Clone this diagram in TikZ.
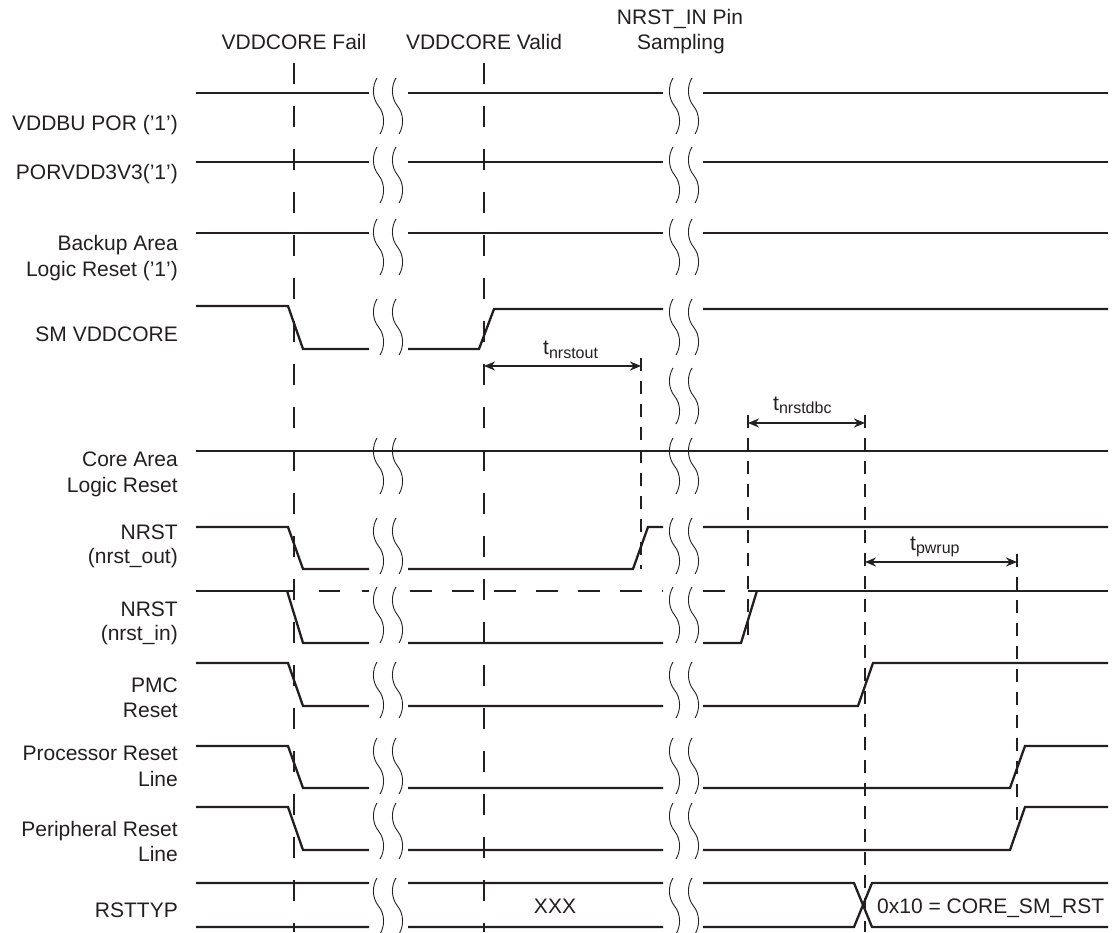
\documentclass[tikz,border=0pt]{standalone}
\usepackage{fontspec}
\setmainfont{Liberation Sans}
\usetikzlibrary{arrows.meta}
\definecolor{ink}{HTML}{231F20}
\newcommand\wavemark[2]{\draw[wavestyle] (#1,#2) .. controls (#1-5,#2+8) and (#1-5,#2+20) .. (#1+1.5,#2+28) .. controls (#1+8,#2+36) and (#1+8,#2+48) .. (#1+3,#2+56);}
\newcommand\wavepair[2]{\wavemark{#1}{#2}\wavemark{#1+19}{#2}}
\newcommand\tsub[1]{t{\fontsize{16}{16}\selectfont\raisebox{-3.5pt}{#1}}}
\begin{document}
\begin{tikzpicture}[x=1pt,y=-1pt,
  sig/.style={line width=2.3pt,ink,line join=miter},
  wavestyle/.style={line width=0.9pt,ink},
  vdash/.style={line width=2.8pt,ink,dash pattern=on 21pt off 22pt},
  sdash/.style={line width=2.5pt,ink,dash pattern=on 13pt off 10pt},
  dimarrow/.style={line width=2pt,ink,{Stealth[length=11pt,width=9pt]}-{Stealth[length=11pt,width=9pt]}},
  lbl/.style={font=\fontsize{21}{25}\selectfont,inner sep=0pt,text=ink},
  sublbl/.style={font=\fontsize{21}{25}\selectfont,inner sep=0pt,text=ink,anchor=base west}]
\useasboundingbox (0,0) rectangle (1112,933);

% vertical event lines
\draw[vdash] (294,63) -- (294,932);
\draw[vdash] (484,63) -- (484,932);

% top labels
\node[lbl,anchor=base] (fail) at (294,50) {VDDCORE Fail};
\node[lbl,anchor=base] (valid) at (484,50) {VDDCORE Valid};
\node[lbl,anchor=base] (samp1) at (680,25) {NRST\_IN Pin};
\node[lbl,anchor=base] (samp2) at (681,50) {Sampling};

% left labels
\node[lbl,anchor=base east] (l1) at (178,131) {VDDBU POR ('1')};
\node[lbl,anchor=base east] (l2) at (178,180) {PORVDD3V3('1')};
\node[lbl,anchor=base east] (l3a) at (178,251) {Backup Area};
\node[lbl,anchor=base east] (l3b) at (178,277) {Logic Reset ('1')};
\node[lbl,anchor=base east] (l4) at (178,342) {SM VDDCORE};
\node[lbl,anchor=base east] (l5a) at (178,466) {Core Area};
\node[lbl,anchor=base east] (l5b) at (178,492) {Logic Reset};
\node[lbl,anchor=base east] (l6a) at (178,539) {NRST};
\node[lbl,anchor=base east] (l6b) at (178,563) {(nrst\_out)};
\node[lbl,anchor=base east] (l7a) at (178,616) {NRST};
\node[lbl,anchor=base east] (l7b) at (178,640) {(nrst\_in)};
\node[lbl,anchor=base east] (l8a) at (178,692) {PMC};
\node[lbl,anchor=base east] (l8b) at (178,717) {Reset};
\node[lbl,anchor=base east] (l9a) at (178,760) {Processor Reset};
\node[lbl,anchor=base east] (l9b) at (178,786) {Line};
\node[lbl,anchor=base east] (l10a) at (178,836) {Peripheral Reset};
\node[lbl,anchor=base east] (l10b) at (178,861) {Line};
\node[lbl,anchor=base east] (l11) at (178,917) {RSTTYP};

% signals
\draw[sig] (196,92.7) -- (369,92.7) (408,92.7) -- (663,92.7) (703,92.7) -- (1108,92.7);
\draw[sig] (196,161.7) -- (369,161.7) (408,161.7) -- (663,161.7) (703,161.7) -- (1108,161.7);
\draw[sig] (196,233.3) -- (369,233.3) (408,233.3) -- (663,233.3) (703,233.3) -- (1108,233.3);
\draw[sig] (196,306) -- (288,306) -- (303,349) -- (369,349)
           (408,349) -- (479,349) -- (494,309) -- (663,309)
           (703,309) -- (1108,309);
\draw[sig] (196,451) -- (1108,451);
\draw[sig] (196,527) -- (288,527) -- (303,569) -- (369,569)
           (408,569) -- (633,569) -- (648,527) -- (663,527)
           (703,527) -- (1108,527);
% NRST in
\draw[sig] (196,590.7) -- (294,590.7);
\draw[sig] (287,590.7) -- (303,643) -- (369,643)
           (408,643) -- (663,643)
           (703,643) -- (741,643) -- (757,590.7);
\draw[sig] (748,590.7) -- (1108,590.7);
\draw[sig,dash pattern=on 21pt off 22pt] (319,590.7) -- (369,590.7);
\draw[sig,dash pattern=on 22pt off 20pt] (410,590.7) -- (663,590.7);
\draw[sig] (703,590.7) -- (725,590.7);
% PMC
\draw[sig] (196,663) -- (288,663) -- (303,706) -- (369,706)
           (408,706) -- (663,706)
           (703,706) -- (858,706) -- (873,663) -- (1108,663);
% Processor
\draw[sig] (196,746) -- (288,746) -- (303,788) -- (369,788)
           (408,788) -- (663,788)
           (703,788) -- (1010,788) -- (1025,746) -- (1108,746);
% Peripheral
\draw[sig] (196,807) -- (288,807) -- (303,850) -- (369,850)
           (408,850) -- (663,850)
           (703,850) -- (1010,850) -- (1025,807) -- (1108,807);
% RSTTYP
\draw[sig] (196,883) -- (369,883) (408,883) -- (663,883)
           (703,883) -- (854,883) -- (872,927) -- (1108,927);
\draw[sig] (196,927) -- (369,927) (408,927) -- (663,927)
           (703,927) -- (854,927) -- (872,883) -- (1108,883);
\node[lbl,anchor=base] (xxx) at (555,913) {XXX};
\node[lbl,anchor=base west] (code) at (877,913) {0x10 = CORE\_SM\_RST};

% break marks
\foreach \t in {78,147,219,299,438,518,587,662,738,803,878}{
  \wavepair{377}{\t}
  \wavepair{673}{\t}
}
\wavepair{673}{368}

% timing markers
\draw[sdash] (641,358) -- (641,569);
\draw[sdash] (748,415) -- (748,643);
\draw[sdash] (865,415) -- (865,932);
\draw[sdash] (1017,554) -- (1017,830);

\coordinate (a1) at (484,366); \coordinate (b1) at (641,366);
\coordinate (a2) at (748,423); \coordinate (b2) at (865,423);
\coordinate (a3) at (865,562); \coordinate (b3) at (1017,562);
\draw[dimarrow] (a1) -- (b1);
\draw[dimarrow] (a2) -- (b2);
\draw[dimarrow] (a3) -- (b3);
\node[sublbl] (t1) at (543,355) {\tsub{nrstout}};
\node[sublbl] (t2) at (773,410) {\tsub{nrstdbc}};
\node[sublbl] (t3) at (910,550) {\tsub{pwrup}};
\end{tikzpicture}
\end{document}
